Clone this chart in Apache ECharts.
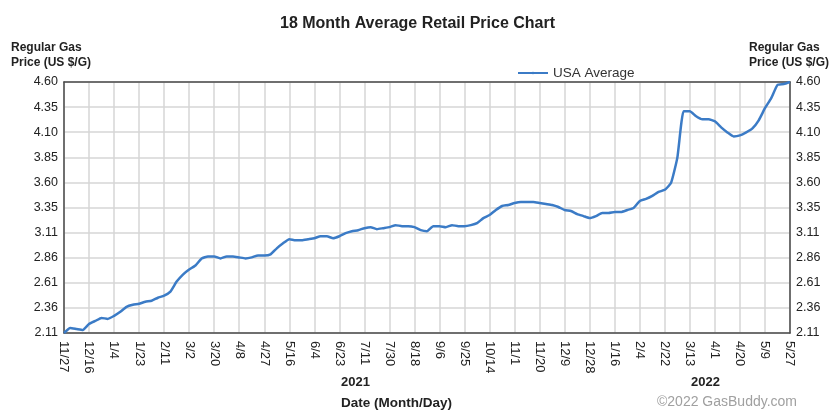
<!DOCTYPE html>
<html>
<head>
<meta charset="utf-8">
<title>18 Month Average Retail Price Chart</title>
<script src="https://cdn.jsdelivr.net/npm/echarts@6/dist/echarts.min.js"></script>
<style>
  html, body { margin: 0; padding: 0; background: #fff; }
  #chart { width: 835px; height: 417px; }
</style>
</head>
<body>
<div id="chart"></div>
<script>
// date labels shown under the chart (every 4th sample)
const xLabels = [
  '11/27', '12/16', '1/4', '1/23', '2/11', '3/2', '3/20', '4/8', '4/27', '5/16',
  '6/4', '6/23', '7/11', '7/30', '8/18', '9/6', '9/25', '10/14', '11/1', '11/20',
  '12/9', '12/28', '1/16', '2/4', '2/22', '3/13', '4/1', '4/20', '5/9', '5/27'
]
const SAMPLES_PER_LABEL = 4

// USA average, 4 samples between each label
const usaAverage = [
  2.11, 2.16, 2.15, 2.14, 2.20, 2.23, 2.26, 2.25,
  2.28, 2.32, 2.37, 2.39, 2.40, 2.42, 2.43, 2.46,
  2.48, 2.52, 2.62, 2.69, 2.74, 2.78, 2.85, 2.87,
  2.87, 2.85, 2.87, 2.87, 2.86, 2.85, 2.86, 2.88,
  2.88, 2.89, 2.95, 3.00, 3.04, 3.03, 3.03, 3.04,
  3.05, 3.07, 3.07, 3.05, 3.07, 3.10, 3.12, 3.13,
  3.15, 3.16, 3.14, 3.15, 3.16, 3.18, 3.17, 3.17,
  3.16, 3.13, 3.12, 3.17, 3.17, 3.16, 3.18, 3.17,
  3.17, 3.18, 3.20, 3.25, 3.28, 3.33, 3.37, 3.38,
  3.40, 3.41, 3.41, 3.41, 3.40, 3.39, 3.38, 3.36,
  3.33, 3.32, 3.29, 3.27, 3.25, 3.27, 3.30, 3.30,
  3.31, 3.31, 3.33, 3.35, 3.42, 3.44, 3.47, 3.51,
  3.53, 3.60, 3.85, 4.31, 4.31, 4.26, 4.23, 4.23,
  4.21, 4.15, 4.10, 4.06, 4.07, 4.10, 4.14, 4.22,
  4.34, 4.44, 4.57, 4.58, 4.60
]

// y tick labels as printed on the chart
const yTicks = ['2.11', '2.36', '2.61', '2.86', '3.11', '3.35', '3.60', '3.85', '4.10', '4.35', '4.60']
const Y_MIN = 2.11
const Y_STEP = 0.249

const FONT = '"Liberation Sans", Arial, sans-serif'
const GRID_COLOR = '#d6d6d6'
const FRAME = { show: true, lineStyle: { color: '#4a4a4a', width: 1.5 } }

const categories = usaAverage.map((v, i) =>
  i % SAMPLES_PER_LABEL === 0 ? xLabels[i / SAMPLES_PER_LABEL] : '')

// axis runs from 0 so the odd tick step lines up with min
const seriesData = usaAverage.map(v => +(v - Y_MIN).toFixed(3))

const tickLabel = v => yTicks[Math.round(v / Y_STEP)] || ''

function makeYAxis (position) {
  return {
    type: 'value',
    position,
    min: 0,
    max: Y_STEP * (yTicks.length - 1),
    interval: Y_STEP,
    axisLine: FRAME,
    axisTick: { show: false },
    splitLine: {
      show: position === 'left',
      lineStyle: { color: GRID_COLOR, width: 1.5 }
    },
    axisLabel: {
      formatter: tickLabel,
      color: '#222',
      fontFamily: FONT,
      fontSize: 12.5,
      margin: 6
    }
  }
}

const chart = echarts.init(document.getElementById('chart'), '', { renderer: 'canvas' })

chart.setOption({
  backgroundColor: '#fff',
  animation: false,
  title: {
    text: '18 Month Average Retail Price Chart',
    left: 'center',
    top: 11,
    textStyle: { fontFamily: FONT, fontSize: 16, fontWeight: 'bold', color: '#222' }
  },
  legend: {
    left: 512,
    top: 61,
    itemWidth: 30,
    itemHeight: 3,
    itemGap: 8,
    textStyle: { fontFamily: FONT, fontSize: 13.5, color: '#333' },
    data: ['USA Average']
  },
  grid: {
    left: 64,
    right: 45,
    top: 82,
    bottom: 84
  },
  xAxis: [
    {
      type: 'category',
      data: categories,
      boundaryGap: false,
      axisLine: { ...FRAME, onZero: false },
      axisTick: { show: false },
      splitLine: {
        show: true,
        interval: SAMPLES_PER_LABEL - 1,
        lineStyle: { color: GRID_COLOR, width: 1.5 }
      },
      axisLabel: {
        interval: SAMPLES_PER_LABEL - 1,
        rotate: -90,
        margin: 8,
        color: '#222',
        fontFamily: FONT,
        fontSize: 13
      }
    },
    {
      // top edge of the frame only
      type: 'category',
      data: categories,
      position: 'top',
      boundaryGap: false,
      axisLine: { ...FRAME, onZero: false },
      axisTick: { show: false },
      axisLabel: { show: false },
      splitLine: { show: false }
    }
  ],
  yAxis: [makeYAxis('left'), makeYAxis('right')],
  series: [{
    name: 'USA Average',
    type: 'line',
    data: seriesData,
    symbol: 'none',
    smooth: 0.15,
    z: 5,
    lineStyle: { color: '#3b7bc6', width: 2.5 },
    itemStyle: { color: '#3b7bc6' }
  }],
  graphic: [
    {
      type: 'text', left: 11, top: 40,
      style: {
        text: 'Regular Gas\nPrice (US $/G)', align: 'center',
        fill: '#222', font: 'bold 12px ' + FONT, lineHeight: 15
      }
    },
    {
      type: 'text', right: 6, top: 40,
      style: {
        text: 'Regular Gas\nPrice (US $/G)', align: 'center',
        fill: '#222', font: 'bold 12px ' + FONT, lineHeight: 15
      }
    },
    {
      type: 'text', left: 341, top: 376,
      style: { text: '2021', fill: '#222', font: 'bold 13px ' + FONT }
    },
    {
      type: 'text', left: 691, top: 376,
      style: { text: '2022', fill: '#222', font: 'bold 13px ' + FONT }
    },
    {
      type: 'text', left: 341, top: 396,
      style: { text: 'Date (Month/Day)', fill: '#222', font: 'bold 13.5px ' + FONT }
    },
    {
      type: 'text', left: 657, top: 395,
      style: { text: '©2022 GasBuddy.com', fill: '#a0a0a0', font: '14px ' + FONT }
    }
  ]
})
</script>
</body>
</html>
